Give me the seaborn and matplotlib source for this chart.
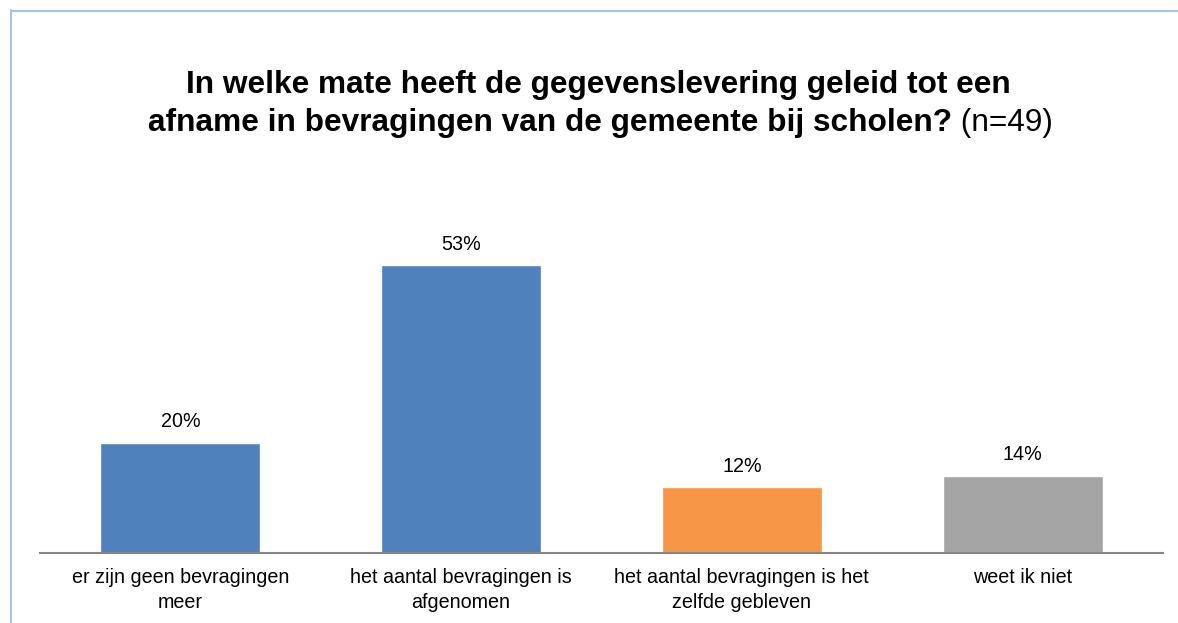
import matplotlib
matplotlib.use("Agg")
import matplotlib.pyplot as plt
from matplotlib.lines import Line2D
import seaborn as sns
import pandas as pd

categories = ["er zijn geen bevragingen\nmeer",
              "het aantal bevragingen is\nafgenomen",
              "het aantal bevragingen is het\nzelfde gebleven",
              "weet ik niet"]
values = [20.4, 53.1, 12.2, 14.3]
colors = ["#4F81BD", "#4F81BD", "#F79646", "#A5A5A5"]

sns.set_theme(style="white")
plt.rcParams['font.family'] = ['Liberation Sans', 'DejaVu Sans']
plt.rcParams['text.color'] = '#000000'

W, H = 1178, 623
fig = plt.figure(figsize=(W/100, H/100), dpi=100)
ax = fig.add_axes([40/W, 1-553/H, (1163-40)/W, (553-228)/H])

df = pd.DataFrame({"cat": categories, "val": values})
sns.barplot(data=df, x="cat", y="val", hue="cat", palette=colors, legend=False,
            width=0.57, saturation=1, ax=ax)
ax.set_ylim(0, 60)
ax.set_xlim(-0.5, 3.5)
for c in ax.containers:
    ax.bar_label(c, fmt="%.0f%%", padding=8, fontsize=14.2, color="#000000")

for s in ["top", "right", "left"]:
    ax.spines[s].set_visible(False)
ax.spines["bottom"].set_color("#868686")
ax.spines["bottom"].set_linewidth(1.5)
ax.set_yticks([])
ax.set_xlabel("")
ax.set_ylabel("")
ax.tick_params(axis="x", length=0, pad=11, labelsize=14.2, colors="#000000")
for lab in ax.get_xticklabels():
    lab.set_linespacing(1.35)
ax.set_facecolor("none")

# title
fs = 22.8
fig.text(598/W, 1-85/H, "In welke mate heeft de gegevenslevering geleid tot een",
         ha="center", va="center", fontsize=fs, fontweight="bold", color="#000000")
fig.canvas.draw()
r = fig.canvas.get_renderer()
t1 = fig.text(0, 1-123/H, "afname in bevragingen van de gemeente bij scholen?",
              ha="left", va="center", fontsize=fs, fontweight="bold", color="#000000")
t2 = fig.text(0, 1-123/H, " (n=49)", ha="left", va="center", fontsize=fs, color="#000000")
w1 = t1.get_window_extent(r).width
w2 = t2.get_window_extent(r).width
x0 = 600 - (w1 + w2) / 2
t1.set_x(x0 / W)
t2.set_x((x0 + w1) / W)

bc = "#A9C2EA"
fig.add_artist(Line2D([11/W, 11/W], [0, 1-10/H], color=bc, lw=1.5, transform=fig.transFigure))
fig.add_artist(Line2D([11/W, 1], [1-11/H, 1-11/H], color=bc, lw=1.5, transform=fig.transFigure))

fig.savefig("out.png", dpi=100)
